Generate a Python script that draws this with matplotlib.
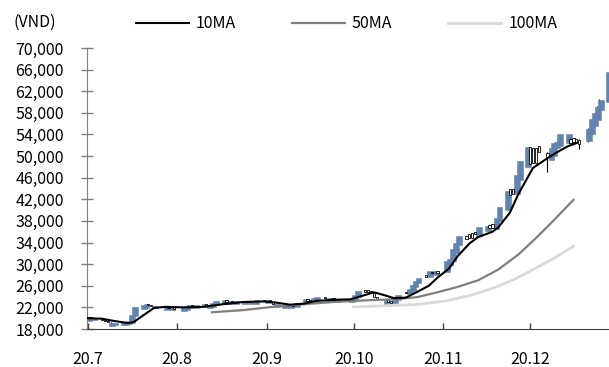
import matplotlib
matplotlib.use('Agg')
import matplotlib.pyplot as plt
import matplotlib.dates as mdates
from matplotlib.lines import Line2D
import numpy as np
import pandas as pd

plt.rcParams['font.family'] = ['Noto Sans CJK KR', 'DejaVu Sans']

# ---------------- data ----------------
jul_days = [1, 2, 3, 6, 7, 8, 9, 10, 13, 14, 15, 16, 17, 20, 21, 22, 23, 24, 27, 28, 29, 30, 31]
aug_days = [3, 4, 5, 6, 7, 10, 11, 12, 13, 14, 17, 18, 19, 20, 21, 24, 25, 26, 27, 28, 31]
sep_days = [1, 2, 3, 4, 7, 8, 9, 10, 11, 14, 15, 16, 17, 18, 21, 22, 23, 24, 25, 28, 29, 30]
oct_days = [1, 2, 5, 6, 7, 8, 9, 12, 13, 14, 15, 16, 19, 20, 21, 22, 23, 26, 27, 28, 29, 30]
nov_days = [2, 3, 4, 5, 6, 9, 10, 11, 12, 13, 16, 17, 18, 19, 20, 23, 24, 25, 26, 27, 30]
dec_days = [1, 2, 3, 4, 7, 8, 9, 10, 11, 14, 15, 16, 17, 18, 21, 22, 23, 24, 25, 28]

open_jul = [19400, 20300, 19600, 19900, 19700, 19500, 18600, 18800, 18700, 18800, 18900, 19200, 20400,
            21700, 21900, 22600, 22500, 21800, 22300, 21600, 22200, 21500, 22000]
close_jul = [20300, 20000, 20100, 19700, 19500, 19300, 19200, 19100, 19300, 19200, 19400, 20600, 22100,
             22500, 22600, 22400, 22200, 22300, 22100, 22200, 21900, 22000, 21700]
open_aug = [21300, 21600, 21800, 22400, 21800, 22000, 22600, 21900, 22100, 22400, 22700, 23300, 22600,
            23200, 22600, 22700, 23200, 22700, 23200, 22700, 23300]
close_aug = [22000, 22200, 22500, 22100, 22500, 22600, 22300, 22400, 22800, 23200, 23300, 23000, 23200,
             23000, 23100, 23200, 23000, 23200, 23100, 23300, 23100]
open_sep = [22800, 23300, 23000, 22000, 21900, 22500, 21800, 22400, 22100, 22600, 23500, 23400, 23000,
            23300, 24000, 23200, 23200, 23700, 23000, 23100, 23600, 23000]
close_sep = [23300, 23000, 22600, 22600, 22500, 22200, 22400, 22200, 22800, 23600, 23200, 23100, 23800,
             24000, 23700, 23800, 23700, 23400, 23600, 23600, 23400, 23600]
open_oct = [23300, 24000, 25300, 25200, 25100, 24700, 24000, 22700, 23300, 23100, 22900, 23400, 24800,
            24400, 25100, 25800, 26500, 28000, 27700, 28600, 28000, 28700]
close_oct = [24300, 25000, 24900, 24900, 24700, 23900, 23400, 23300, 23000, 22900, 23700, 24300, 24600,
             25400, 26200, 26800, 27500, 27700, 28700, 28300, 28700, 28400]
open_nov = [28500, 29800, 30600, 32000, 33500, 35300, 35600, 35700, 35900, 35200, 36200, 37300, 37400,
            36500, 38000, 40000, 44000, 44000, 43000, 45500, 48000]
close_nov = [30500, 31000, 32800, 34000, 35300, 34600, 34800, 34900, 35500, 36800, 37100, 36600, 36700,
             38500, 40500, 43500, 42800, 43000, 46500, 49000, 51700]
open_dec = [51700, 51500, 51500, 51900, 50500, 49300, 50000, 51500, 51800, 52500, 53200, 53300, 53200,
            53000, 52700, 54000, 55500, 56700, 58500, 60000]
close_dec = [48600, 48700, 48800, 50700, 49800, 51500, 52500, 52600, 54000, 54000, 52500, 52600, 52400,
             52300, 55000, 56800, 58000, 59000, 60300, 65500]

wick_dates = ['2020-07-09', '2020-10-12', '2020-11-20', '2020-12-07', '2020-12-18', '2020-12-21',
              '2020-12-24', '2020-12-25']
wick_highs = [19300, 23400, 40600, 50800, 53200, 55200, 59200, 60500]
wick_lows = [18500, 22600, 37600, 47000, 51300, 52600, 56300, 58200]

ma10_dates = ['2020-07-01', '2020-07-06', '2020-07-10', '2020-07-15', '2020-07-17', '2020-07-21',
              '2020-07-24', '2020-07-28', '2020-08-03', '2020-08-10', '2020-08-17', '2020-08-24',
              '2020-08-31', '2020-09-04', '2020-09-09', '2020-09-14', '2020-09-18', '2020-09-24',
              '2020-09-30', '2020-10-05', '2020-10-08', '2020-10-12', '2020-10-15', '2020-10-19',
              '2020-10-22', '2020-10-27', '2020-10-30', '2020-11-03', '2020-11-06', '2020-11-10',
              '2020-11-13', '2020-11-18', '2020-11-20', '2020-11-24', '2020-11-27', '2020-12-02',
              '2020-12-07', '2020-12-10', '2020-12-14', '2020-12-17']
ma10_values = [20000, 19900, 19500, 19100, 19300, 20800, 21900, 22100, 22000, 22100, 22600, 23000,
               23100, 22900, 22500, 22700, 23200, 23400, 23500, 24300, 24800, 24200, 23700, 23800,
               24600, 26000, 27500, 29200, 31500, 33800, 35000, 36000, 36800, 39500, 43000, 47800,
               49600, 50600, 51800, 52400]

ma50_dates = ['2020-08-13', '2020-08-24', '2020-09-03', '2020-09-14', '2020-09-24', '2020-10-05',
              '2020-10-15', '2020-10-23', '2020-10-30', '2020-11-06', '2020-11-13', '2020-11-20',
              '2020-11-27', '2020-12-03', '2020-12-09', '2020-12-16']
ma50_values = [21100, 21500, 22100, 22600, 23000, 23300, 23500, 23900, 24800, 25800, 27000, 29000,
               31800, 34800, 38000, 41900]

ma100_dates = ['2020-10-01', '2020-10-12', '2020-10-22', '2020-11-02', '2020-11-11', '2020-11-19',
               '2020-11-26', '2020-12-02', '2020-12-09', '2020-12-16']
ma100_values = [22100, 22300, 22500, 23200, 24300, 25700, 27300, 29000, 31000, 33300]

tick_dates = ['2020-07-01', '2020-08-01', '2020-09-01', '2020-10-01', '2020-11-01', '2020-12-01']
tick_labels = ['20.7', '20.8', '20.9', '20.10', '20.11', '20.12']
y_ticks = [18000, 22000, 26000, 30000, 34000, 38000, 42000, 46000, 50000, 54000, 58000, 62000,
           66000, 70000]

legend_labels = ['10MA', '50MA', '100MA']

# ---------------- assemble ----------------
months = [(7, jul_days), (8, aug_days), (9, sep_days), (10, oct_days), (11, nov_days), (12, dec_days)]
dates = pd.to_datetime([f'2020-{m:02d}-{d:02d}' for m, days in months for d in days])
opens = np.array(open_jul + open_aug + open_sep + open_oct + open_nov + open_dec, dtype=float)
closes = np.array(close_jul + close_aug + close_sep + close_oct + close_nov + close_dec, dtype=float)
x = mdates.date2num(dates)

BLUE = '#6283ad'

fig = plt.figure(figsize=(6.09, 3.67), dpi=100)
ax = fig.add_axes([87 / 609, 38 / 367, 1 - 87 / 609, (329 - 48) / 367])

up = closes >= opens
dn = ~up

# wicks
wx = mdates.date2num(pd.to_datetime(wick_dates))
ax.vlines(wx, wick_lows, wick_highs, color='black', lw=0.8, zorder=2)

ax.bar(x[up] + 0.4, closes[up] - opens[up], bottom=opens[up], width=2.0,
       color=BLUE, edgecolor=BLUE, lw=0.4, zorder=3)
ax.bar(x[dn], opens[dn] - closes[dn], bottom=closes[dn], width=0.8,
       facecolor='white', edgecolor='black', lw=0.6, zorder=3.5)

ax.plot(mdates.date2num(pd.to_datetime(ma100_dates)), ma100_values, color='#d9d9d9', lw=2.0, zorder=4)
ax.plot(mdates.date2num(pd.to_datetime(ma50_dates)), ma50_values, color='#7f7f7f', lw=1.6, zorder=4)
ax.plot(mdates.date2num(pd.to_datetime(ma10_dates)), ma10_values, color='black', lw=1.5, zorder=5)

x0 = mdates.date2num(pd.Timestamp('2020-07-01'))
ax.set_xlim(x0 - 0.2, x0 + 180.3)
ax.set_ylim(18000, 70000)

ax.set_yticks(y_ticks)
ax.set_yticklabels([f'{v:,}' for v in y_ticks])
ax.set_xticks(mdates.date2num(pd.to_datetime(tick_dates)))
ax.set_xticklabels(tick_labels)

for s in ['top', 'right']:
    ax.spines[s].set_visible(False)
ax.spines['left'].set_color('#808080')
ax.spines['bottom'].set_color('#404040')

ax.tick_params(axis='y', direction='inout', length=9, width=1, color='#808080',
               labelsize=11.5, pad=12, labelcolor='black')
ax.tick_params(axis='x', direction='in', length=4, width=1, color='#404040',
               labelsize=11.5, pad=16, labelcolor='black')

fig.text(13 / 609, 1 - 22 / 367, '(VND)', fontsize=11.5, ha='left', va='center')

handles = [Line2D([], [], color='black', lw=1.5),
           Line2D([], [], color='#7f7f7f', lw=1.6),
           Line2D([], [], color='#d9d9d9', lw=2.0)]
fig.legend(handles, legend_labels, ncol=3, frameon=False, loc='center left',
           bbox_to_anchor=(136 / 609, 1 - 24 / 367), fontsize=11.5,
           handlelength=3.3, handletextpad=0.45, columnspacing=3.5,
           borderpad=0, borderaxespad=0)

fig.savefig('out.png', dpi=100)
